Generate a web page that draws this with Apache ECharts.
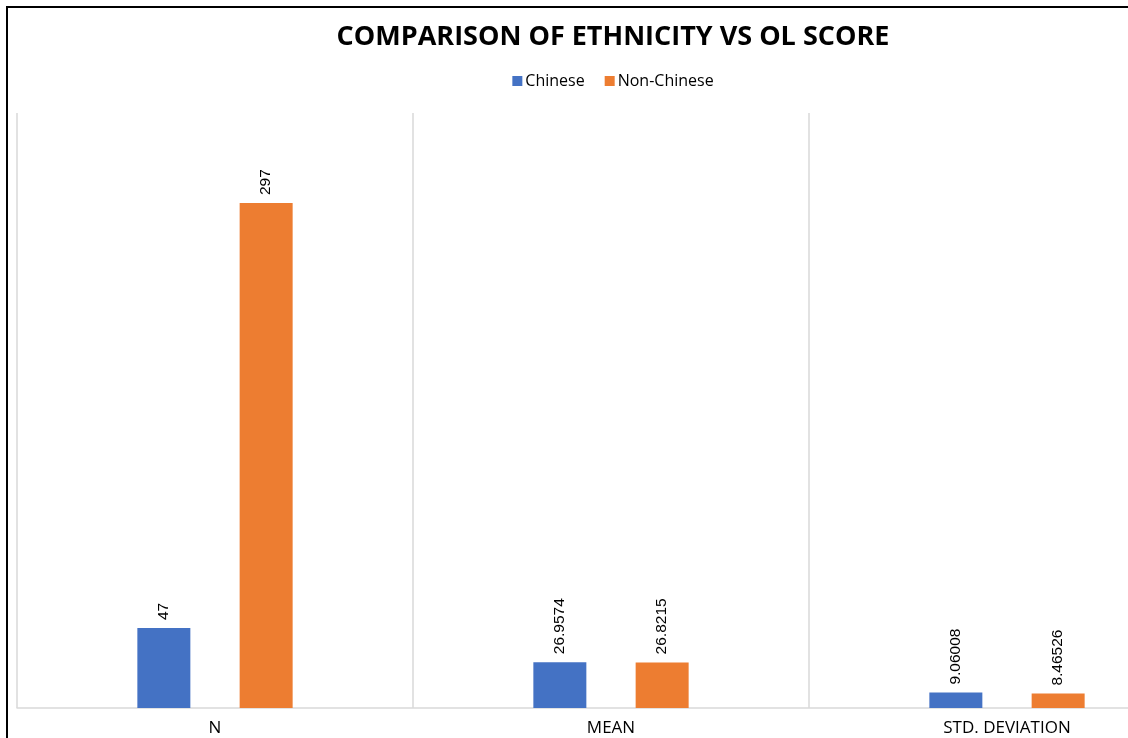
<!DOCTYPE html>
<html>
<head>
<meta charset="utf-8">
<script src="https://cdn.jsdelivr.net/npm/echarts@6/dist/echarts.min.js"></script>
<style>
  html, body { margin: 0; padding: 0; background: #fff; overflow: hidden; }
  #frame {
    position: absolute; left: 6px; top: 6px;
    border: 2px solid #000;
    width: 1210px; height: 752px;
  }
  #chart { width: 1210px; height: 752px; }
</style>
</head>
<body>
<div id="frame"><div id="chart"></div></div>
<script>
const categories = ['N', 'MEAN', 'STD. DEVIATION'];
const chinese = [47, 26.9574, 9.06008];
const nonChinese = [297, 26.8215, 8.46526];
const seriesNames = ['Chinese', 'Non-Chinese'];

let myChart = echarts.init(document.getElementById('chart'));

const labelStyle = {
  show: true,
  position: 'top',
  rotate: 90,
  align: 'left',
  verticalAlign: 'middle',
  distance: 8,
  fontFamily: 'Liberation Sans',
  fontSize: 15.5,
  color: '#000',
};

let option = {
  animation: false,
  title: {
    text: 'COMPARISON OF ETHNICITY VS OL SCORE',
    left: 'center',
    top: 11,
    textStyle: {
      fontFamily: 'Open Sans',
      fontWeight: 'bold',
      fontSize: 27,
      color: '#000',
    },
  },
  legend: {
    data: seriesNames,
    top: 60,
    left: 'center',
    itemWidth: 10,
    itemHeight: 10,
    itemGap: 20,
    icon: 'rect',
    textStyle: { fontFamily: 'Open Sans', fontSize: 16, color: '#000', padding: [0, 0, 0, -2] },
  },
  grid: { left: 9, right: 13, top: 105, bottom: 52 },
  xAxis: {
    type: 'category',
    data: categories,
    axisLine: { lineStyle: { color: '#d9d9d9', width: 1.5 } },
    axisTick: { show: false },
    splitLine: { show: true, lineStyle: { color: '#d9d9d9', width: 1.5 } },
    axisLabel: {
      margin: 12,
      fontFamily: 'Open Sans',
      fontSize: 17,
      color: '#000',
    },
  },
  yAxis: {
    type: 'value',
    min: 0,
    max: 350,
    show: false,
    splitLine: { show: false },
  },
  series: [
    {
      name: seriesNames[0],
      type: 'bar',
      data: chinese,
      barWidth: 53,
      barGap: '93%',
      itemStyle: { color: '#4472c4' },
      label: labelStyle,
    },
    {
      name: seriesNames[1],
      type: 'bar',
      data: nonChinese,
      barWidth: 53,
      itemStyle: { color: '#ed7d31' },
      label: labelStyle,
    },
  ],
};

myChart.setOption(option);
</script>
</body>
</html>
